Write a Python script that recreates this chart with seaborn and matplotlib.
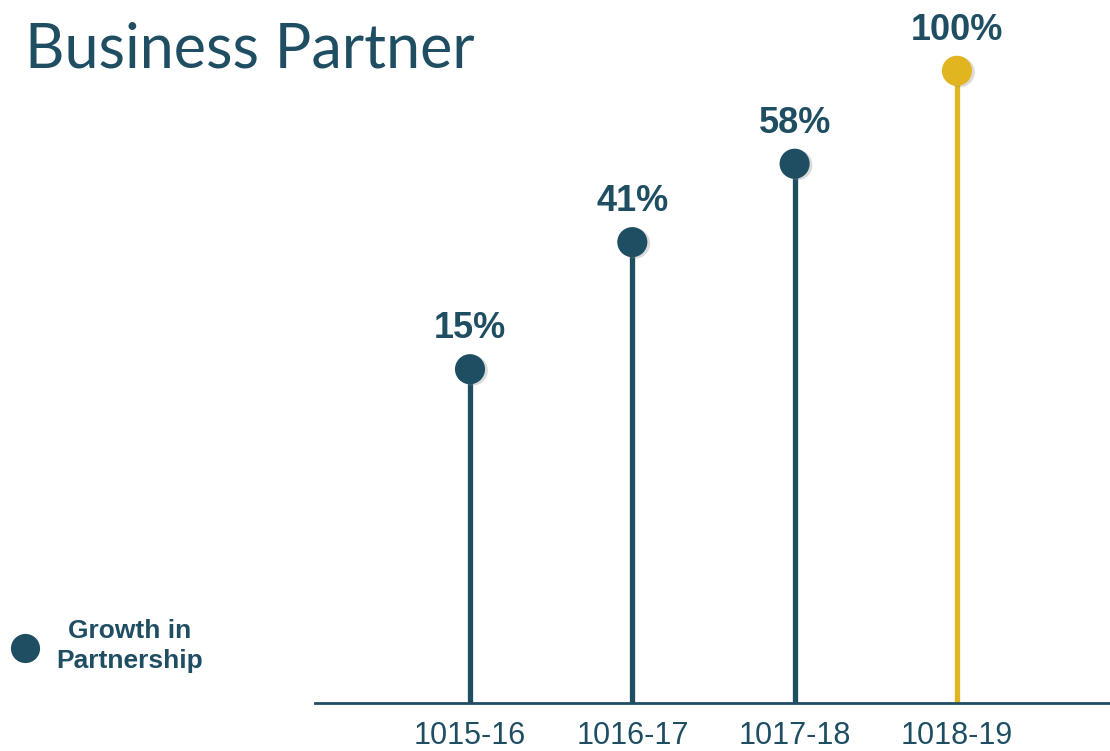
import matplotlib
matplotlib.use('Agg')
import matplotlib.pyplot as plt
import matplotlib.patheffects as pe
from matplotlib.lines import Line2D
import seaborn as sns
import pandas as pd

# ============================================
# 数据
# ============================================
YEARS = ['1015-16', '1016-17', '1017-18', '1018-19']
LABELS = ['15%', '41%', '58%', '100%']
# 图中棒的高度（按像素读出，100% 那根为 100）
HEIGHTS = [52.8, 72.9, 85.3, 100.0]
HIGHLIGHT = [False, False, False, True]
LEGEND_LABEL = 'Growth in\nPartnership'

TEAL = '#1f4e63'
GOLD = '#e0b520'

sns.set_theme(style='white')
plt.rcParams['font.family'] = ['Liberation Sans', 'DejaVu Sans']

df = pd.DataFrame({'year': YEARS, 'label': LABELS, 'height': HEIGHTS,
                   'hl': HIGHLIGHT})
df['x'] = range(len(df))
df['color'] = [GOLD if h else TEAL for h in df['hl']]

fig = plt.figure(figsize=(11.1, 7.51), dpi=100)
ax = fig.add_axes([315 / 1110, 1 - 703 / 751, 1 - 315 / 1110, 703 / 751])

# 棒
ax.vlines(df['x'], 0, df['height'], colors=df['color'], linewidth=3.8, zorder=2)

# 圆点（带轻微阴影）
sns.scatterplot(data=df, x='x', y='height', hue='year',
                palette=dict(zip(df['year'], df['color'])),
                s=470, linewidth=0, ax=ax, zorder=3, legend=False)
ax.collections[-1].set_path_effects(
    [pe.SimplePatchShadow(offset=(2, -1), shadow_rgbFace='#888888', alpha=0.3),
     pe.Normal()])

# 数值标签
for _, r in df.iterrows():
    ax.annotate(r['label'], (r['x'], r['height']), xytext=(0, 29),
                textcoords='offset points', ha='center', va='center',
                fontsize=26, fontweight='bold', color=TEAL)

ax.set_xlim(-0.955, 3.943)
ax.set_ylim(0, 111.2)
ax.set_xticks(df['x'])
ax.set_xticklabels(df['year'], fontsize=22, color=TEAL)
ax.tick_params(axis='x', length=0, pad=13)
ax.set_yticks([])
ax.set_xlabel('')
ax.set_ylabel('')
for s in ['top', 'right', 'left']:
    ax.spines[s].set_visible(False)
ax.spines['bottom'].set_color(TEAL)
ax.spines['bottom'].set_linewidth(2)
ax.set_facecolor('none')

# 标题
fig.text(25 / 1110, 1 - 50 / 751, 'Business Partner', fontsize=44,
         color=TEAL, va='center', ha='left', family=['Lato', 'DejaVu Sans'])

# 图例
fig.add_artist(Line2D([25 / 1110], [1 - 648 / 751], transform=fig.transFigure,
                      marker='o', linestyle='none', markersize=21,
                      markerfacecolor=TEAL, markeredgewidth=0))
fig.text(130 / 1110, 1 - 646 / 751, LEGEND_LABEL, fontsize=19,
         fontweight='bold', color=TEAL, ha='center', va='center',
         multialignment='center', linespacing=1.3)

fig.savefig('out.png', dpi=100)
